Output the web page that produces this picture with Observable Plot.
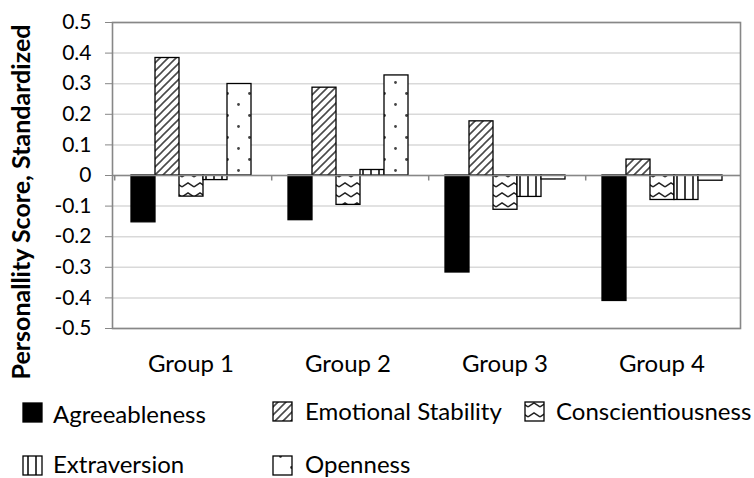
<!DOCTYPE html>
<html>
<head>
<meta charset="utf-8">
<script src="https://cdn.jsdelivr.net/npm/d3@7"></script>
<script src="https://cdn.jsdelivr.net/npm/@observablehq/plot@0.6"></script>
<style>
  body { margin: 0; background: #fff; }
  #wrap { position: relative; width: 754px; height: 478px; background: #fff; overflow: hidden; }
  #wrap > svg { position: absolute; left: 0; top: 0; }
</style>
</head>
<body>
<div id="wrap"></div>
<script>
// ---- data ----
const groups = ["Group 1", "Group 2", "Group 3", "Group 4"];
const series = ["Agreeableness", "Emotional Stability", "Conscientiousness", "Extraversion", "Openness"];
const agreeableness      = [-0.153, -0.146, -0.317, -0.410];
const emotionalStability = [ 0.384,  0.287,  0.177,  0.052];
const conscientiousness  = [-0.069, -0.096, -0.112, -0.080];
const extraversion       = [-0.015,  0.018, -0.070, -0.080];
const openness           = [ 0.299,  0.327, -0.013, -0.017];
const yTicks = [0.5, 0.4, 0.3, 0.2, 0.1, 0, -0.1, -0.2, -0.3, -0.4, -0.5];
const yTitle = "Personallity Score, Standardized";

const seriesValues = [agreeableness, emotionalStability, conscientiousness, extraversion, openness];
const fills = ["#000000", "url(#pES)", "url(#pCo)", "url(#pEx)", "url(#pOp)"];
const data = groups.flatMap((g, i) => series.map((s, j) => ({group: g, series: s, value: seriesValues[j][i]})));

// ---- layout ----
const W = 754, H = 390;
const mL = 110, mR = 13, mT = 22, mB = 62;
const po = 0.65;
const facetW = (W - mL - mR) / groups.length;
const step = facetW / (series.length + 2 * po);
const gray = "#878787";
const fmt = d => d === 0 ? "0" : String(+d.toFixed(1));

const chart = Plot.plot({
  width: W, height: H,
  marginLeft: mL, marginRight: mR, marginTop: mT, marginBottom: mB,
  style: {fontFamily: "Lato, sans-serif", fontSize: "21px", color: "#000", background: "transparent", overflow: "visible"},
  fx: {domain: groups, padding: 0, label: null},
  x: {domain: series, paddingInner: 0, paddingOuter: po, axis: null},
  y: {domain: [-0.5, 0.5], label: null},
  color: {domain: series, range: fills},
  marks: [
    Plot.gridY(yTicks, {stroke: "#d9d9d9", strokeOpacity: 1, strokeWidth: 1.5}),
    Plot.barY(data, {fx: "group", x: "series", y: "value", fill: "series", stroke: "#000", strokeWidth: 1.3}),
    Plot.ruleY([0], {stroke: gray, strokeWidth: 1.6}),
    Plot.ruleX(groups, {fx: d => d, x: () => series[0], y1: 0, y2: -0.018, dx: -(step / 2 + po * step), stroke: gray, strokeWidth: 1.5}),
    Plot.frame({facet: "super", stroke: gray, strokeWidth: 1.6}),
    Plot.axisY(yTicks, {tickSize: 7, tickPadding: 14, tickFormat: fmt, stroke: gray, fill: "#000", fontSize: 21, label: null}),
    Plot.axisFx({anchor: "bottom", tickSize: 0, tickPadding: 26, fontSize: 24, fill: "#000", label: null})
  ]
});

const ns = "http://www.w3.org/2000/svg";
const defs = document.createElementNS(ns, "defs");
defs.innerHTML = `
  <pattern id="pES" patternUnits="userSpaceOnUse" width="8" height="8">
    <rect width="8" height="8" fill="#fff"/>
    <path d="M-2,2 L2,-2 M0,8 L8,0 M6,10 L10,6" stroke="#4a4a4a" stroke-width="1.6"/>
  </pattern>
  <pattern id="pCo" patternUnits="userSpaceOnUse" width="12" height="10">
    <rect width="12" height="10" fill="#fff"/>
    <path d="M0,7 L6,3 L12,7" stroke="#222" stroke-width="1.5" fill="none"/>
  </pattern>
  <pattern id="pEx" patternUnits="userSpaceOnUse" width="8" height="8">
    <rect width="8" height="8" fill="#fff"/>
    <path d="M4,0 V8" stroke="#000" stroke-width="1.5"/>
  </pattern>
  <pattern id="pOp" patternUnits="userSpaceOnUse" width="22" height="22">
    <rect width="22" height="22" fill="#fff"/>
    <circle cx="5.5" cy="5.5" r="1.4" fill="#444"/>
    <circle cx="16.5" cy="16.5" r="1.4" fill="#444"/>
  </pattern>`;
chart.prepend(defs);

const wrap = document.getElementById("wrap");
wrap.appendChild(chart);

// ---- title + legend overlay ----
const over = document.createElementNS(ns, "svg");
over.setAttribute("width", W);
over.setAttribute("height", 478);
over.style.fontFamily = "Lato, sans-serif";
let html = `<text transform="translate(30,202) rotate(-90)" text-anchor="middle" font-weight="bold" font-size="25" fill="#000">${yTitle}</text>`;
const legendPos = [
  {bx: 23, by: 403, tx: 53, ty: 423},
  {bx: 273, by: 402, tx: 305, ty: 420},
  {bx: 525, by: 402, tx: 556, ty: 420},
  {bx: 23, by: 456, tx: 53, ty: 473},
  {bx: 273, by: 456, tx: 305, ty: 473}
];
series.forEach((s, j) => {
  const p = legendPos[j];
  html += `<rect x="${p.bx}" y="${p.by}" width="19" height="19" fill="${fills[j]}" stroke="#000" stroke-width="1.3"/>`;
  html += `<text x="${p.tx}" y="${p.ty}" font-size="24" fill="#000">${s}</text>`;
});
over.innerHTML = html;
wrap.appendChild(over);
</script>
</body>
</html>
